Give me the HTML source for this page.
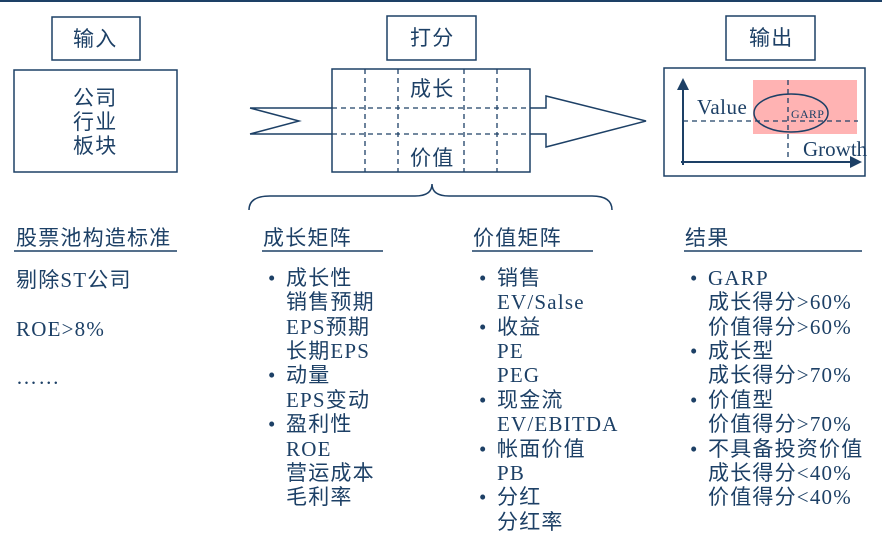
<!DOCTYPE html>
<html><head><meta charset="utf-8"><style>
body{margin:0;background:#fff}
svg text{font-family:"Liberation Serif","Noto Sans CJK SC",serif;font-size:21px;letter-spacing:1.2px;fill:#1d4066}
</style></head><body>
<svg width="882" height="537" viewBox="0 0 882 537" xmlns="http://www.w3.org/2000/svg">
<rect x="0" y="0" width="882" height="2" fill="#1d4066"/>
<g fill="none" stroke="#1d4066" stroke-width="1.5">
<rect x="52" y="17" width="88" height="43"/>
<rect x="14" y="70" width="163" height="102"/>
<rect x="387" y="16" width="89" height="44"/>
<rect x="726" y="16" width="89" height="44"/>
<rect x="332" y="69" width="198" height="103"/>
<path d="M250 108 L332 108 M250 134 L332 134 M250 108 L299 121 L250 134"/>
<path d="M530 108 L546 108 L546 96 L646 121 L546 147 L546 134 L530 134"/>
<path d="M249 210 Q249 196 270 196 L415 196 Q432 196 432 184 Q432 196 449 196 L592 196 Q612 196 612 210"/>
</g>
<g stroke="#1d4066" stroke-width="1.3" stroke-dasharray="5,4" fill="none">
<path d="M365 69V172M398 69V172M464 69V172M497 69V172M332 108H530M332 134H530"/>
</g>
<text x="73" y="46">输入</text>
<text x="73" y="105">公司</text>
<text x="73" y="129">行业</text>
<text x="73" y="153">板块</text>
<text x="410" y="45">打分</text>
<text x="749" y="45">输出</text>
<text x="410" y="96">成长</text>
<text x="410" y="165">价值</text>
<rect x="664" y="68" width="201" height="108" fill="none" stroke="#1d4066" stroke-width="1.5"/>
<rect x="753" y="80" width="104" height="54" fill="#ffb3b3"/>
<g stroke="#1d4066" stroke-width="1.3" stroke-dasharray="5,4" fill="none">
<path d="M683 121H858M788 80V162"/>
</g>
<ellipse cx="791" cy="113" rx="37" ry="19" fill="none" stroke="#1d4066" stroke-width="1.5"/>
<g stroke="#1d4066" stroke-width="2" fill="none"><path d="M683 165V88M681 162H852"/></g>
<path d="M677 90 L683 78 L689 90Z M850 156 L862 162 L850 168Z" fill="#1d4066"/>
<text x="697" y="114" style="letter-spacing:0.5px">Value</text>
<text x="791" y="118" style="font-size:12px;letter-spacing:0.3px">GARP</text>
<text x="803" y="156" style="letter-spacing:0px">Growth</text>
<g stroke="#1d4066" stroke-width="1.5"><path d="M14 251H177M262 251H383M472 251H593M684 251H862"/></g>
<text x="16" y="245">股票池构造标准</text>
<text x="16" y="287">剔除ST公司</text>
<text x="16" y="336">ROE&gt;8%</text>
<text x="16" y="384">……</text>
<text x="263" y="245">成长矩阵</text>
<text x="268" y="285">•</text><text x="286" y="285">成长性</text>
<text x="286" y="309">销售预期</text>
<text x="286" y="334">EPS预期</text>
<text x="286" y="358">长期EPS</text>
<text x="268" y="382">•</text><text x="286" y="382">动量</text>
<text x="286" y="407">EPS变动</text>
<text x="268" y="431">•</text><text x="286" y="431">盈利性</text>
<text x="286" y="456">ROE</text>
<text x="286" y="480">营运成本</text>
<text x="286" y="504">毛利率</text>
<text x="473" y="245">价值矩阵</text>
<text x="479" y="285">•</text><text x="497" y="285">销售</text>
<text x="497" y="309">EV/Salse</text>
<text x="479" y="334">•</text><text x="497" y="334">收益</text>
<text x="497" y="358">PE</text>
<text x="497" y="382">PEG</text>
<text x="479" y="407">•</text><text x="497" y="407">现金流</text>
<text x="497" y="431">EV/EBITDA</text>
<text x="479" y="456">•</text><text x="497" y="456">帐面价值</text>
<text x="497" y="480">PB</text>
<text x="479" y="504">•</text><text x="497" y="504">分红</text>
<text x="497" y="529">分红率</text>
<text x="685" y="245">结果</text>
<text x="690" y="285">•</text><text x="708" y="285">GARP</text>
<text x="708" y="309">成长得分&gt;60%</text>
<text x="708" y="334">价值得分&gt;60%</text>
<text x="690" y="358">•</text><text x="708" y="358">成长型</text>
<text x="708" y="382">成长得分&gt;70%</text>
<text x="690" y="407">•</text><text x="708" y="407">价值型</text>
<text x="708" y="431">价值得分&gt;70%</text>
<text x="690" y="456">•</text><text x="708" y="456">不具备投资价值</text>
<text x="708" y="480">成长得分&lt;40%</text>
<text x="708" y="504">价值得分&lt;40%</text>
</svg>
</body></html>
